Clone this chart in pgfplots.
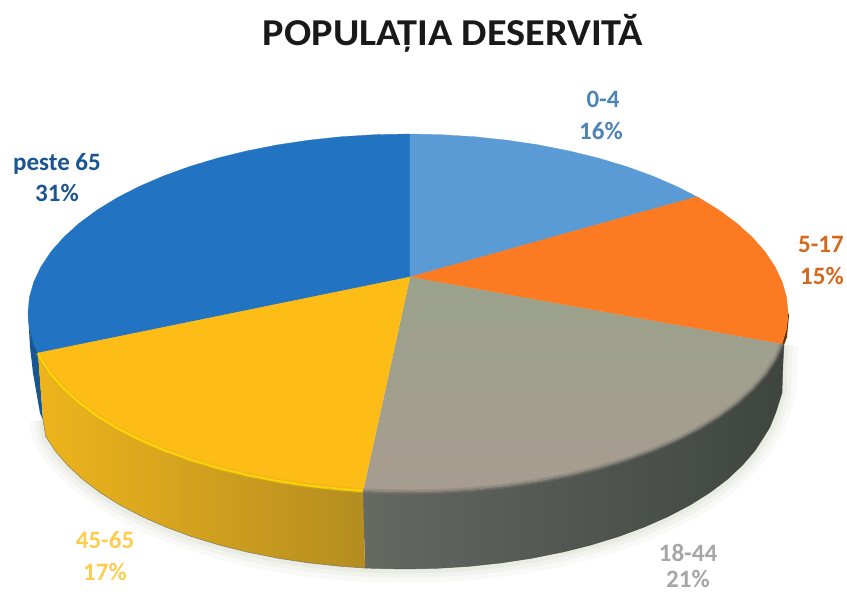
\documentclass[border=0pt]{standalone}
\usepackage{fontspec}
\setmainfont{Carlito}
\newfontfamily\titlefont[FakeStretch=1.06]{Carlito}
\usepackage{pgfplots}
\usepackage{pgfplotstable}
\pgfplotsset{compat=1.18}

\definecolor{cBlueDark}{HTML}{2273C1}
\definecolor{cBlueLight}{HTML}{5B9BD5}
\definecolor{cOrange}{HTML}{FB7A22}
\definecolor{cYellow}{HTML}{FDBC16}
\definecolor{cGreyTop}{HTML}{9AA28B}
\definecolor{cGreyLow}{HTML}{A89C90}
\definecolor{cWallA}{HTML}{666862}
\definecolor{cWallB}{HTML}{4A504A}
\definecolor{cWallC}{HTML}{3E453F}
\definecolor{cGoldA}{HTML}{EEB41C}
\definecolor{cGoldB}{HTML}{DFA81C}
\definecolor{cGoldC}{HTML}{B48D20}
\definecolor{cShadow}{HTML}{C9D0BA}

% Rim of the upper face, slice by slice, in picture units
\pgfplotstableread{
x y
696 197
699.1 197.9
676.7 186.4
652.3 175.9
626 166.4
598 158
568.6 150.8
538 144.8
506.3 140.1
474 136.7
441.1 134.7
410 134
}\rimA
\pgfplotstableread{
x y
782 344
786.6 328.6
788 313
786.6 297.4
782.2 281.9
775 266.7
765.1 251.8
752.4 237.4
737.1 223.5
719.3 210.3
699.1 197.9
696 197
}\rimB
\pgfplotstableread{
x y
363 491
374.9 491.3
408 492
441.1 491.3
474 489.3
506.3 485.9
538 481.2
568.6 475.2
598 468
626 459.6
652.3 450.1
676.7 439.6
699.1 428.1
719.3 415.7
737.1 402.5
752.4 388.6
765.1 374.2
775 359.3
782 344
}\rimC
\pgfplotstableread{
x y
38 353
41 359.3
50.9 374.2
63.6 388.6
78.9 402.5
96.7 415.7
116.9 428.1
139.3 439.6
163.7 450.1
190 459.6
218 468
247.4 475.2
278 481.2
309.7 485.9
342 489.3
363 491
}\rimD
\pgfplotstableread{
x y
410 134
374.9 134.7
342 136.7
309.7 140.1
278 144.8
247.4 150.8
218 158
190 166.4
163.7 175.9
139.3 186.4
116.9 197.9
96.7 210.3
78.9 223.5
63.6 237.4
50.9 251.8
41 266.7
33.8 281.9
29.4 297.4
28 313
29.4 328.6
33.8 344.1
38 353
}\rimE
% Lower edge of the pie's side wall
\pgfplotstableread{
x y
43 420
45.7 436.3
55.4 451.2
67.9 465.6
82.8 479.5
100.3 492.7
120 505.1
142 516.6
165.9 527.1
191.6 536.6
219 545
247.8 552.2
277.8 558.2
308.7 562.9
340.4 566.3
365 568
}\baseYellow
\pgfplotstableread{
x y
365 568
372.6 568.3
405 569
437.4 568.3
469.6 566.3
501.3 562.9
532.2 558.2
562.2 552.2
591 545
618.4 536.6
644.1 527.1
668 516.6
690 505.1
709.7 492.7
727.2 479.5
742.1 465.6
754.6 451.2
764.3 436.3
770 427
776 412
782 393
783 363
784 345
}\baseGrey

\begin{document}
\begin{tikzpicture}
\begin{axis}[
  scale only axis, width=847pt, height=594pt,
  xmin=0, xmax=847, ymin=0, ymax=594, y dir=reverse,
  hide axis, no markers, clip=true,
]
% invisible corners keep the whole canvas
\addplot[draw=none, forget plot] coordinates {(0,0) (847,594)};

% soft shadow under the wall
\addplot[color=cShadow, line width=28pt, opacity=0.10, forget plot, line join=round] table[x=x,y=y] {\baseYellow};
\addplot[color=cShadow, line width=28pt, opacity=0.10, forget plot, line join=round] table[x=x,y=y] {\baseGrey};
\addplot[color=cShadow, line width=18pt, opacity=0.16, forget plot, line join=round] table[x=x,y=y] {\baseYellow};
\addplot[color=cShadow, line width=18pt, opacity=0.16, forget plot, line join=round] table[x=x,y=y] {\baseGrey};
\addplot[color=cShadow, line width=9pt, opacity=0.22, forget plot, line join=round] table[x=x,y=y] {\baseYellow};
\addplot[color=cShadow, line width=9pt, opacity=0.22, forget plot, line join=round] table[x=x,y=y] {\baseGrey};

% side wall: blue sliver
\addplot[fill=black!25!cBlueDark, draw=none, forget plot] coordinates
  {(28,313) (30,347) (33,373) (40,413) (43,420) (38,353)} -- cycle;
% side wall: orange sliver
\addplot[fill=orange!40!black, draw=none, forget plot] coordinates
  {(788,313) (786.6,328.6) (782,344) (784,345) (787,337) (789,315)} -- cycle;
% side wall: grey
\addplot[draw=none, forget plot, left color=cWallA, middle color=cWallB, right color=cWallC] coordinates {
 (363,491) (374.9,491.3) (408,492) (441.1,491.3) (474,489.3) (506.3,485.9) (538,481.2)
 (568.6,475.2) (598,468) (626,459.6) (652.3,450.1) (676.7,439.6) (699.1,428.1)
 (719.3,415.7) (737.1,402.5) (752.4,388.6) (765.1,374.2) (775,359.3) (782,344)
 (784,345) (783,363) (782,393) (776,412) (770,427) (764.3,436.3) (754.6,451.2)
 (742.1,465.6) (727.2,479.5) (709.7,492.7) (690,505.1) (668,516.6) (644.1,527.1)
 (618.4,536.6) (591,545) (562.2,552.2) (532.2,558.2) (501.3,562.9) (469.6,566.3)
 (437.4,568.3) (405,569) (372.6,568.3) (365,568)} -- cycle;
% side wall: yellow
\addplot[draw=none, forget plot, left color=cGoldA, middle color=cGoldB, right color=cGoldC] coordinates {
 (38,353) (41,359.3) (50.9,374.2) (63.6,388.6) (78.9,402.5) (96.7,415.7) (116.9,428.1)
 (139.3,439.6) (163.7,450.1) (190,459.6) (218,468) (247.4,475.2) (278,481.2)
 (309.7,485.9) (342,489.3) (363,491) (365,568) (340.4,566.3) (308.7,562.9)
 (277.8,558.2) (247.8,552.2) (219,545) (191.6,536.6) (165.9,527.1) (142,516.6)
 (120,505.1) (100.3,492.7) (82.8,479.5) (67.9,465.6) (55.4,451.2) (45.7,436.3) (43,420)} -- cycle;
\addplot[color=black!60, line width=0.6pt, opacity=0.7, forget plot] table[x=x,y=y] {\baseYellow};
\addplot[color=black!75, line width=0.5pt, opacity=0.7, forget plot] table[x=x,y=y] {\baseGrey};

% upper face, one slice per age group; each rim table is closed through the hub
\addplot[fill=cBlueDark, draw=cBlueDark, line width=0.3pt, forget plot] table[x=x,y=y] {\rimE} -- (axis cs:410,277) -- cycle;
\addplot[fill=cBlueLight, draw=cBlueLight, line width=0.3pt, forget plot] table[x=x,y=y] {\rimA} -- (axis cs:410,277) -- cycle;
\addplot[fill=cOrange, draw=cOrange, line width=0.3pt, forget plot] table[x=x,y=y] {\rimB} -- (axis cs:410,277) -- cycle;
\addplot[draw=none, forget plot, top color=cGreyTop, bottom color=cGreyLow] table[x=x,y=y] {\rimC} -- (axis cs:410,277) -- cycle;
\addplot[fill=cYellow, draw=cYellow, line width=0.3pt, forget plot] table[x=x,y=y] {\rimD} -- (axis cs:410,277) -- cycle;

% bevel along the front rim
\addplot[color=cGoldB, line width=5pt, opacity=0.35, forget plot] table[x=x,y=y] {\rimD};
\addplot[color=yellow!80!orange, line width=2.4pt, opacity=0.75, forget plot] table[x=x,y=y] {\rimD};
\addplot[color=cWallA!60!cGreyLow, line width=5pt, opacity=0.35, forget plot] table[x=x,y=y] {\rimC};
\addplot[color=cWallA!60!cGreyLow, line width=2.5pt, opacity=0.5, forget plot] table[x=x,y=y] {\rimC};

% title and slice labels
\node[font=\titlefont\fontsize{38}{40}\selectfont\bfseries, text=black!90] at (axis cs:453,33) {POPULAȚIA DESERVITĂ};
\begin{scope}[every node/.style={font=\fontsize{25}{27}\selectfont\bfseries}]
\node[text=cBlueLight!85!black] at (axis cs:603,99) {0-4};
\node[text=cBlueLight!85!black] at (axis cs:601,131) {16\%};
\node[text=cBlueDark!75!black] at (axis cs:57,164) {peste 65};
\node[text=cBlueDark!75!black] at (axis cs:57,193) {31\%};
\node[text=cOrange!85!black] at (axis cs:821,244) {5-17};
\node[text=cOrange!85!black] at (axis cs:822,276) {15\%};
\node[text=cYellow!75!white] at (axis cs:105,540) {45-65};
\node[text=cYellow!75!white] at (axis cs:105,572) {17\%};
\node[text=black!35] at (axis cs:688,553) {18-44};
\node[text=black!35, inner sep=0pt] at (axis cs:688,579) {21\%};
\end{scope}
\end{axis}
\end{tikzpicture}
\end{document}
